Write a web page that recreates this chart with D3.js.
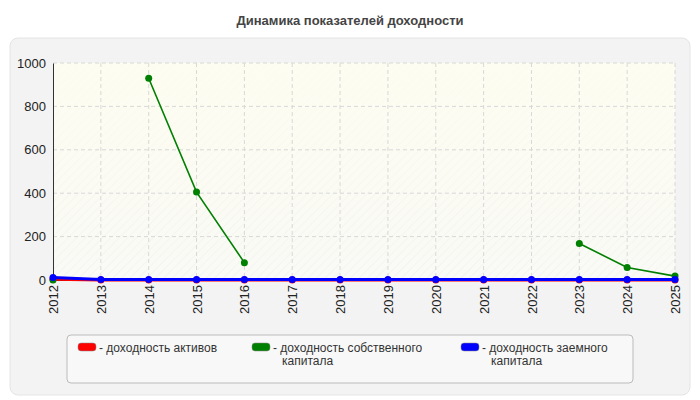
<!DOCTYPE html><html><head><meta charset="utf-8"><script src="https://cdn.jsdelivr.net/npm/d3@7"></script>
<style>body{margin:0;background:#fff;font-family:"Liberation Sans",Arial,sans-serif}</style></head><body><svg id="c" width="700" height="400" font-family="Liberation Sans, Arial, sans-serif"></svg>
<script>
const years=[2012,2013,2014,2015,2016,2017,2018,2019,2020,2021,2022,2023,2024,2025];
const assets=[4,0,0,0,0,0,0,0,0,0,0,0,0,0];
const equity=[0,null,930,405,80,null,null,null,null,null,null,168,58,18];
const debt=[12,2,2,2,2,2,2,2,2,2,2,2,2,2];
const yTicks=[0,200,400,600,800,1000];
const names=[["- доходность активов"],["- доходность собственного","капитала"],["- доходность заемного","капитала"]];
const colors=["#ff0000","#008000","#0000ff"];
const svg=d3.select("#c");
svg.append("text").attr("x",350).attr("y",25).attr("text-anchor","middle").attr("font-size",13).attr("font-weight","bold").attr("fill","#444").text("Динамика показателей доходности");
svg.append("rect").attr("x",10).attr("y",38).attr("width",680).attr("height",357).attr("rx",8).attr("fill","#f3f3f3").attr("stroke","#e4e4e4");
const x=d3.scalePoint().domain(years).range([53,675]);
const y=d3.scaleLinear().domain([0,1000]).range([280,63]);
const defs=svg.append("defs");
const p=defs.append("pattern").attr("id","h").attr("width",6).attr("height",6).attr("patternUnits","userSpaceOnUse").attr("patternTransform","rotate(45)");
p.append("rect").attr("width",6).attr("height",6).attr("fill","#fafaf6");
p.append("line").attr("x1",0).attr("y1",0).attr("x2",0).attr("y2",6).attr("stroke","#ececec").attr("stroke-width",1);
const lg=defs.append("linearGradient").attr("id","t").attr("x1",0).attr("y1",0).attr("x2",0).attr("y2",1);
lg.append("stop").attr("offset","0").attr("stop-color","#fdfdf0").attr("stop-opacity",0.9);
lg.append("stop").attr("offset","1").attr("stop-color","#fdfdf0").attr("stop-opacity",0);
svg.append("rect").attr("x",53).attr("y",63).attr("width",622).attr("height",217).attr("fill","url(#h)");
svg.append("rect").attr("x",53).attr("y",63).attr("width",622).attr("height",217).attr("fill","url(#t)");
const g=svg.append("g");
g.selectAll(".gx").data(years.slice(1)).join("line").attr("x1",d=>x(d)).attr("x2",d=>x(d)).attr("y1",63).attr("y2",280).attr("stroke","#d8d8d8").attr("stroke-dasharray","4,3");
g.selectAll(".gy").data(yTicks.slice(1)).join("line").attr("x1",53).attr("x2",675).attr("y1",d=>y(d)).attr("y2",d=>y(d)).attr("stroke","#d8d8d8").attr("stroke-dasharray","4,3");
const ya=svg.append("g").attr("transform","translate(53,0)").call(d3.axisLeft(y).tickValues(yTicks).tickFormat(d3.format("d")).tickSize(0).tickPadding(7));
ya.select(".domain").attr("stroke","#333");
ya.selectAll("text").attr("font-size",13).attr("fill","#222").attr("font-family","Liberation Sans, Arial");
const xa=svg.append("g").attr("transform","translate(0,280)").call(d3.axisBottom(x).tickSize(0).tickPadding(0));
xa.select(".domain").attr("stroke","#333");
xa.selectAll("text").attr("font-size",13).attr("fill","#222").attr("font-family","Liberation Sans, Arial").attr("text-anchor","end").attr("transform","rotate(-90)").attr("dx","-5").attr("dy","0.35em");
const series=[assets,equity,debt];const widths=[3,1.6,3];
series.forEach((s,i)=>{
 const line=d3.line().defined(d=>d!==null).x((d,j)=>x(years[j])).y(d=>y(d));
 svg.append("path").datum(s).attr("d",line).attr("fill","none").attr("stroke",colors[i]).attr("stroke-width",widths[i]);
 svg.selectAll(null).data(s.map((v,j)=>({v,j})).filter(d=>d.v!==null)).join("circle").attr("cx",d=>x(years[d.j])).attr("cy",d=>y(d.v)).attr("r",3.5).attr("fill",colors[i]);
});
svg.append("rect").attr("x",67).attr("y",335).attr("width",566).attr("height",48).attr("rx",4).attr("fill","#f8f8f8").attr("stroke","#bbb");
const lx=[78,252,461];
names.forEach((n,i)=>{
 svg.append("rect").attr("x",lx[i]).attr("y",343).attr("width",18).attr("height",8).attr("rx",3).attr("fill",colors[i]).attr("stroke","#888").attr("stroke-width",0.5);
 n.forEach((s,k)=>svg.append("text").attr("x",lx[i]+21+(k?9:0)).attr("y",352+k*13).attr("font-size",12).attr("fill","#333").text(s));
});
</script></body></html>
